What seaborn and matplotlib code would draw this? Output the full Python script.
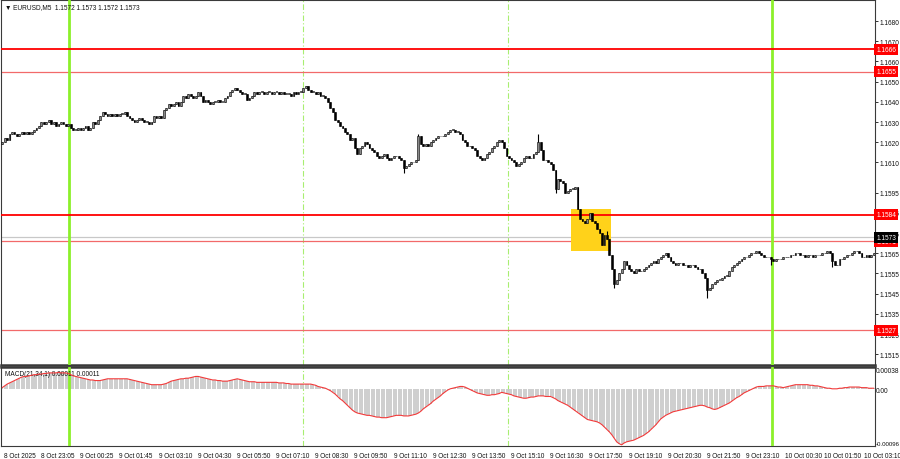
import numpy as np
import pandas as pd
import matplotlib
matplotlib.use("Agg")
import matplotlib.pyplot as plt
import matplotlib.transforms as mtransforms
from matplotlib.patches import Rectangle
import seaborn as sns

sns.set_style("white")
plt.rcParams['font.family'] = ['Liberation Sans', 'DejaVu Sans']

# ---------- data ----------
# EURUSD M5 closes, in pips above 1.1500 (one value per bar)
close_pips = [
    120, 122, 121, 124, 125, 124, 123, 124, 125, 124,
    125, 124, 125, 126, 127, 128, 130, 129, 130, 131,
    129, 130, 128, 129, 130, 129, 128, 129, 127, 126,
    126, 127, 126, 127, 128, 126, 127, 130, 129, 131,
    133, 135, 134, 133, 134, 133, 134, 133, 134, 134,
    135, 133, 132, 131, 130, 131, 132, 131, 130, 130,
    129, 130, 133, 132, 133, 132, 136, 137, 139, 138,
    139, 140, 138, 140, 143, 142, 144, 143, 142, 143,
    145, 143, 140, 141, 140, 139, 140, 140, 141, 140,
    140, 142, 143, 145, 146, 147, 146, 145, 144, 144,
    141, 142, 143, 145, 144, 145, 145, 144, 145, 145,
    144, 145, 145, 144, 145, 144, 144, 144, 143, 145,
    144, 145, 145, 147, 148, 146, 145, 145, 144, 145,
    143, 143, 142, 140, 137, 135, 131, 130, 128, 127,
    125, 124, 121, 122, 117, 114, 117, 118, 120, 119,
    117, 116, 115, 113, 112, 113, 114, 112, 111, 112,
    113, 113, 112, 111, 107, 108, 109, 110, 110, 111,
    123, 119, 118, 119, 118, 120, 121, 122, 123, 123,
    123, 124, 125, 126, 126, 125, 125, 124, 121, 120,
    118, 118, 117, 116, 113, 112, 111, 112, 114, 115,
    117, 118, 120, 121, 120, 117, 113, 112, 111, 110,
    108, 109, 110, 112, 113, 112, 112, 114, 115, 120,
    116, 111, 111, 110, 109, 106, 97, 102, 101, 100,
    95, 96, 97, 97, 98, 87, 82, 81, 80, 82,
    85, 81, 80, 77, 75, 69, 74, 72, 64, 57,
    50, 52, 55, 57, 61, 59, 57, 56, 55, 57,
    56, 56, 57, 58, 59, 60, 61, 60, 62, 63,
    64, 65, 63, 61, 60, 59, 60, 60, 59, 59,
    58, 59, 59, 58, 57, 57, 55, 53, 47, 48,
    50, 51, 52, 52, 53, 54, 54, 56, 58, 59,
    60, 61, 62, 63, 63, 64, 65, 65, 66, 65,
    64, 63, 63, 63, 62, 61, 62, 62, 62, 63,
    63, 63, 64, 64, 65, 65, 64, 64, 63, 64,
    64, 63, 64, 64, 64, 65, 65, 66, 65, 61,
    59, 59, 62, 62, 63, 64, 64, 65, 66, 66,
    65, 63, 63, 64, 63, 64, 65,
]
first_open_pips = 119
spike_high = {170: 124, 219: 124, 226: 103, 247: 76, 250: 55}
spike_low = {164: 105, 226: 95, 250: 48, 288: 43, 314: 59, 339: 58}

# MACD(21,34,1), units of 0.00001
macd_e5 = [
    3, 6, 9, 11, 13, 15, 17, 19, 21, 22,
    22, 23, 24, 25, 25, 26, 26, 27, 27, 28,
    28, 28, 28, 29, 28, 28, 28, 27, 25, 23,
    22, 21, 20, 19, 18, 17, 16, 16, 15, 15,
    15, 16, 17, 18, 18, 18, 18, 18, 18, 18,
    18, 18, 17, 16, 15, 14, 13, 12, 11, 10,
    9, 8, 8, 8, 8, 8, 9, 10, 12, 14,
    15, 16, 17, 18, 18, 19, 19, 20, 21, 22,
    22, 21, 20, 19, 18, 17, 16, 16, 15, 15,
    14, 14, 14, 15, 16, 17, 18, 17, 16, 15,
    14, 13, 13, 13, 12, 12, 12, 12, 12, 12,
    12, 12, 12, 11, 11, 11, 10, 10, 9, 9,
    9, 9, 9, 9, 9, 9, 9, 8, 7, 5,
    4, 3, 2, 0, -2, -5, -8, -12, -16, -19,
    -23, -27, -31, -35, -38, -40, -41, -42, -43, -44,
    -44, -45, -46, -47, -47, -48, -48, -48, -47, -46,
    -45, -44, -44, -44, -45, -45, -45, -44, -43, -42,
    -40, -37, -33, -30, -27, -24, -20, -17, -14, -11,
    -7, -4, -1, 1, 2, 3, 4, 5, 5, 4,
    2, 0, -2, -4, -6, -7, -8, -9, -10, -10,
    -9, -9, -8, -7, -5, -6, -7, -8, -9, -11,
    -12, -13, -14, -15, -15, -14, -13, -13, -12, -11,
    -11, -11, -12, -12, -12, -14, -16, -19, -21, -23,
    -25, -27, -30, -33, -36, -39, -42, -45, -48, -51,
    -52, -53, -54, -55, -57, -60, -64, -68, -72, -77,
    -83, -89, -92, -94, -91, -89, -88, -87, -86, -84,
    -82, -80, -78, -75, -72, -68, -64, -60, -55, -50,
    -47, -44, -42, -40, -38, -37, -36, -35, -34, -33,
    -32, -31, -30, -29, -28, -27, -27, -28, -30, -31,
    -33, -34, -33, -31, -29, -27, -25, -23, -20, -17,
    -14, -12, -9, -6, -4, -2, 0, 2, 4, 5,
    5, 5, 6, 6, 6, 6, 5, 4, 4, 3,
    4, 5, 6, 7, 8, 8, 8, 8, 8, 8,
    7, 7, 6, 6, 5, 4, 3, 2, 2, 1,
    1, 1, 2, 2, 3, 3, 4, 4, 4, 4,
    4, 3, 3, 3, 2, 2, 2,
]

time_labels = [
    "8 Oct 2025", "8 Oct 23:05", "9 Oct 00:25", "9 Oct 01:45", "9 Oct 03:10",
    "9 Oct 04:30", "9 Oct 05:50", "9 Oct 07:10", "9 Oct 08:30", "9 Oct 09:50",
    "9 Oct 11:10", "9 Oct 12:30", "9 Oct 13:50", "9 Oct 15:10", "9 Oct 16:30",
    "9 Oct 17:50", "9 Oct 19:10", "9 Oct 20:30", "9 Oct 21:50", "9 Oct 23:10",
    "10 Oct 00:30", "10 Oct 01:50", "10 Oct 03:10",
]
time_label_bars = [0] + [15 + 16 * k for k in range(22)]

price_ticks = [1.1680, 1.1670, 1.1660, 1.1650, 1.1640, 1.1630, 1.1620, 1.1610,
               1.1595, 1.1585, 1.1575, 1.1565, 1.1555, 1.1545, 1.1535, 1.1525, 1.1515]

strong_levels = [1.1666, 1.1584]
weak_levels = [1.1655, 1.1571, 1.1527]
bid_price = 1.1573
green_lines = [27.1, 314.5]
session_lines = [122.7, 206.7]
box_bars = (232.4, 248.8)
box_prices = (1.15661, 1.15869)

# ---------- build OHLC ----------
n = len(close_pips)
idx = np.arange(n)
c = 1.15 + np.array(close_pips) / 10000.0
o = np.concatenate([[1.15 + first_open_pips / 10000.0], c[:-1]])
hi = np.maximum(o, c)
lo = np.minimum(o, c)
for k, v in spike_high.items():
    hi[k] = max(hi[k], 1.15 + v / 10000.0)
for k, v in spike_low.items():
    lo[k] = min(lo[k], 1.15 + v / 10000.0)
macd = np.array(macd_e5) / 100000.0
macd_df = pd.DataFrame({"bar": idx, "macd": macd})

# ---------- figure ----------
W, H = 900, 460
FS = 4.7
TXT = "#111111"
fig = plt.figure(figsize=(9, 4.6), dpi=100)
ax = fig.add_axes([1 / W, 1 - 366 / H, 874 / W, 365 / H])
ax2 = fig.add_axes([1 / W, 1 - 447 / H, 874 / W, 79 / H])

RED = "#ff0000"
SALMON = "#f26a6a"
LIME = "#8cf02a"

for a in (ax, ax2):
    a.set_xlim(-0.5, n - 0.5)
    a.set_facecolor("white")
    for s in a.spines.values():
        s.set_color("#3a3a3a")
        s.set_linewidth(0.8)
    for gx in green_lines:
        a.axvline(gx, color=LIME, lw=2.0, zorder=3)
    for sx in session_lines:
        a.axvline(sx, color="#a8ee70", lw=0.8, ls=(0, (5, 2, 1, 2)), zorder=1)

ax.spines["bottom"].set_linewidth(1.8)
ax2.spines["top"].set_linewidth(1.8)

# main panel
ax.set_ylim(1.150970, 1.169040)
ax.axhline(bid_price, color="#c8c8c8", lw=0.9, zorder=1)
for lv in weak_levels:
    ax.axhline(lv, color=SALMON, lw=0.9, zorder=1)
ax.add_patch(Rectangle((box_bars[0], box_prices[0]), box_bars[1] - box_bars[0],
                       box_prices[1] - box_prices[0], facecolor="#ffd21a",
                       edgecolor="none", zorder=2))
for lv in strong_levels:
    ax.axhline(lv, color=RED, lw=1.3, zorder=4)

up = c >= o
ax.vlines(idx, lo, hi, color="black", lw=0.8, zorder=5)
body = np.maximum(np.abs(c - o), 0.00003)
ax.bar(idx, body, bottom=np.minimum(o, c), width=0.75,
       color=np.where(up, "#8a8a8a", "black"), edgecolor="black",
       linewidth=0.4, zorder=6)

ax.yaxis.tick_right()
ax.set_yticks(price_ticks)
ax.set_yticklabels([f"{t:.4f}" for t in price_ticks])
ax.tick_params(axis="y", length=2.0, width=0.6, pad=1.0, labelsize=FS,
               colors=TXT, direction="out")
ax.set_xticks([])

trans = mtransforms.blended_transform_factory(ax.transAxes, ax.transData)
for lv in strong_levels + weak_levels:
    ax.text(1.0015, lv, f"{lv:.4f}", transform=trans, fontsize=FS, color="white",
            va="center", ha="left", zorder=10, clip_on=False,
            bbox=dict(boxstyle="square,pad=0.3", fc=RED, ec="none"))
ax.text(1.0015, bid_price, f"{bid_price:.4f}", transform=trans, fontsize=FS,
        color="white", va="center", ha="left", zorder=11, clip_on=False,
        bbox=dict(boxstyle="square,pad=0.3", fc="black", ec="none"))

fig.text(5 / W, 1 - 8 / H, "\u25bc EURUSD,M5  1.1572 1.1573 1.1572 1.1573",
         fontsize=FS, color=TXT, va="center", ha="left")

# MACD panel
ax2.set_ylim(-0.00096, 0.00038)
ax2.vlines(idx, 0, macd, color="#cacaca", lw=1.3, zorder=2)
sns.lineplot(data=macd_df, x="bar", y="macd", ax=ax2, color="#f23a3a", lw=0.8,
             zorder=4, legend=False)
ax2.set_xlabel("")
ax2.set_ylabel("")
ax2.yaxis.tick_right()
ax2.set_yticks([0.00038, 0.0, -0.00096])
ax2.set_yticklabels(["0.00038", "0.00", "-0.00096"])
ylbls = ax2.get_yticklabels()
ylbls[0].set_verticalalignment("top")
ylbls[2].set_verticalalignment("bottom")
ax2.tick_params(axis="y", length=0, pad=0.6, labelsize=FS, colors=TXT)
ylbls[2].set_fontsize(4.4)
ax2.text(4 / 874, 1 - 6 / 79, "MACD(21,34,1) 0.00011 0.00011", transform=ax2.transAxes,
         fontsize=FS, color=TXT, va="center", ha="left")

ax2.set_xticks(time_label_bars)
ax2.set_xticklabels(time_labels)
ax2.tick_params(axis="x", length=2.5, width=0.6, pad=1.5, labelsize=FS,
                colors=TXT, direction="out")
shift = mtransforms.ScaledTranslation(1.5 / 72, 0, fig.dpi_scale_trans)
for lbl in ax2.get_xticklabels():
    lbl.set_horizontalalignment("left")
    lbl.set_transform(lbl.get_transform() + shift)

fig.savefig("out.png", dpi=100)
